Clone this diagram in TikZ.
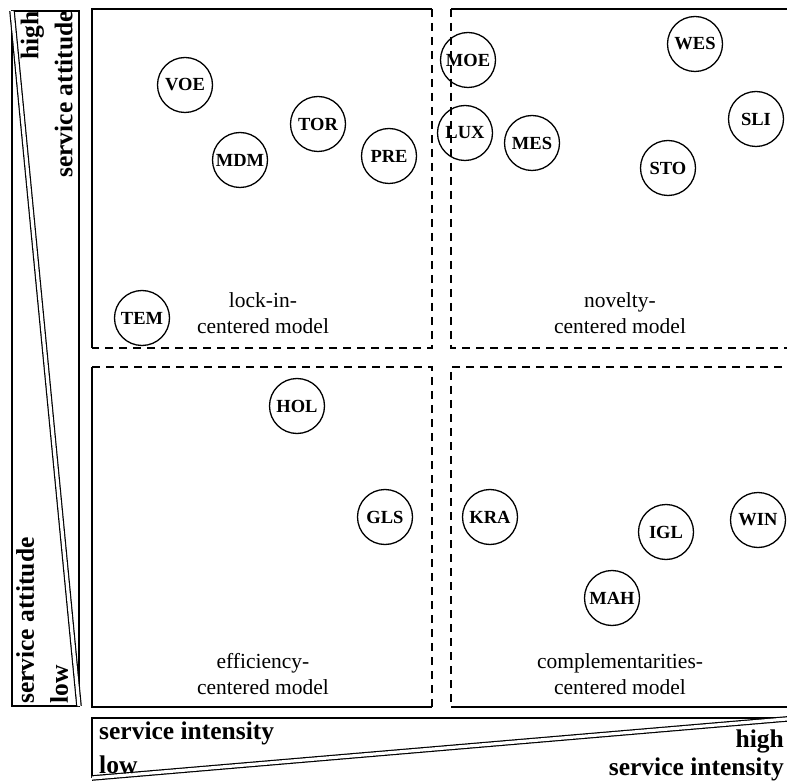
\documentclass[tikz,border=0pt]{standalone}
\usepackage{fontspec}
\setmainfont{Liberation Serif}
\begin{document}
\begin{tikzpicture}[x=1pt,y=-1pt,
  frame/.style={line width=1.4pt},
  gap/.style={line width=1.4pt, dash pattern=on 8pt off 6pt},
  firm/.style={draw, circle, line width=1.3pt, minimum size=55pt, inner sep=0pt,
    font=\fontsize{18.5}{18.5}\selectfont\bfseries},
  quadlabel/.style={align=center, inner sep=0pt, font=\fontsize{21.5}{26}\selectfont},
  axislabel/.style={inner sep=0pt, font=\fontsize{25.5}{34}\selectfont\bfseries},
  wedge/.style={line width=1.2pt, double, double distance=3.2pt}]
\useasboundingbox (0,0) rectangle (787,783);
\clip (0,0) rectangle (787,783);

% quadrant frames
\draw[frame] (432,9) -- (92,9) -- (92,348);
\draw[gap] (432,9) -- (432,348) -- (92,348);
\draw[frame] (451,9) -- (810,9);
\draw[gap] (451,9) -- (451,348) -- (810,348);
\draw[frame] (92,367) -- (92,707) -- (432,707);
\draw[gap] (92,367) -- (432,367) -- (432,707);
\draw[frame] (451,707) -- (810,707);
\draw[gap] (810,367) -- (451,367) -- (451,707);

% quadrant captions
\node[quadlabel] (lockin) at (263,313) {lock-in-\\centered model};
\node[quadlabel] (novelty) at (620,313) {novelty-\\centered model};
\node[quadlabel] (efficiency) at (263,674) {efficiency-\\centered model};
\node[quadlabel] (complement) at (620,674) {complementarities-\\centered model};

% firms
\node[firm] (voe) at (185,85) {VOE};
\node[firm] (mdm) at (240,160) {MDM};
\node[firm] (tor) at (318,124) {TOR};
\node[firm] (pre) at (389,156) {PRE};
\node[firm] (tem) at (142,318) {TEM};
\node[firm] (moe) at (468,60) {MOE};
\node[firm] (lux) at (465,133) {LUX};
\node[firm] (mes) at (532,143) {MES};
\node[firm] (wes) at (695,44) {WES};
\node[firm] (sli) at (756,119) {SLI};
\node[firm] (sto) at (668,168) {STO};
\node[firm] (hol) at (297,406) {HOL};
\node[firm] (gls) at (385,517) {GLS};
\node[firm] (kra) at (490,517) {KRA};
\node[firm] (igl) at (666,532) {IGL};
\node[firm] (win) at (758,520) {WIN};
\node[firm] (mah) at (612,598) {MAH};

% vertical scale: service attitude
\draw[frame] (12,11) rectangle (79,706);
\draw[wedge] (12,11) -- (79,706);
\node[axislabel, rotate=90, anchor=south east, align=right] (attHigh) at (73,11) {high\\service attitude};
\node[axislabel, rotate=90, anchor=north west, align=left] (attLow) at (16,704) {service attitude\\low};

% horizontal scale: service intensity
\draw[frame] (810,718) -- (92,718) -- (92,778);
\draw[wedge] (92,778) -- (810,717);
\node[axislabel, anchor=north west, align=left] (intLow) at (99,722) {service intensity\\low};
\node[axislabel, anchor=south east, align=right, font=\fontsize{25.5}{28}\selectfont\bfseries] (intHigh) at (784,781) {high\\service intensity};
\end{tikzpicture}
\end{document}
